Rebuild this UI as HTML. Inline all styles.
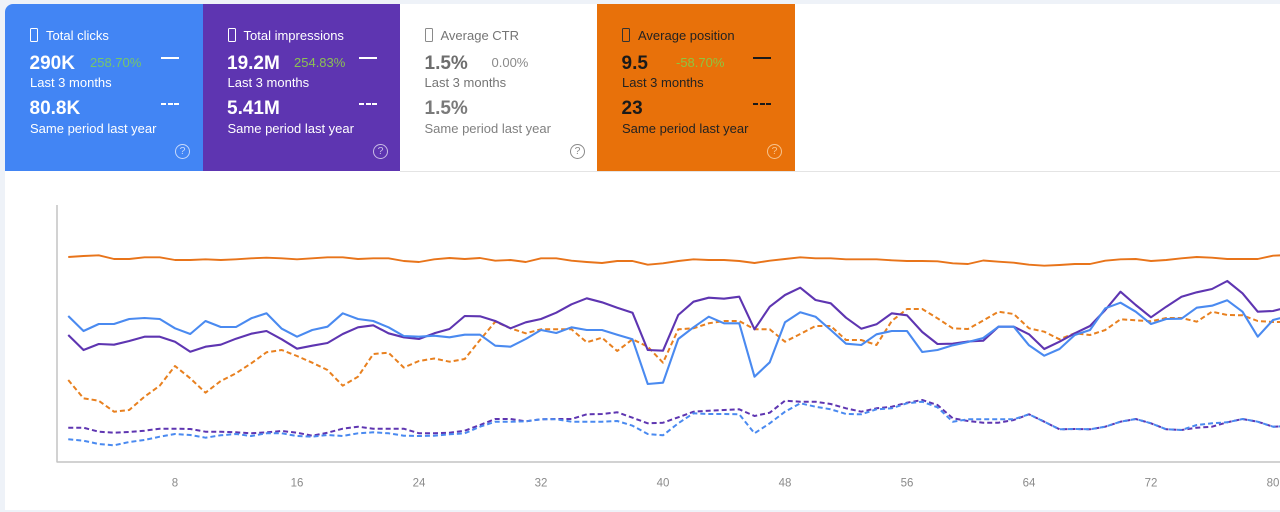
<!DOCTYPE html>
<html><head><meta charset="utf-8">
<style>
*{margin:0;padding:0;box-sizing:border-box}
html,body{width:1280px;height:512px;overflow:hidden;background:#eef2f8;font-family:"Liberation Sans",Arial,sans-serif}
#wrap{position:absolute;left:5px;top:4px;width:1290px;height:506px;background:#fff;border-top-left-radius:8px;overflow:hidden}
.card{position:absolute;top:4px;height:167px;width:198px}
.t{position:absolute;white-space:nowrap;line-height:1}
.lbl{font-size:13px;top:25px}
.big{font-size:19px;font-weight:bold}
.sm{font-size:13px}
.ic{position:absolute;left:25px;top:24.3px;width:7.5px;height:14px;border:1.3px solid;border-radius:1.5px}
.dash{position:absolute;left:156px;top:53.3px;width:18px;height:2px}
.dd{position:absolute;left:156px;top:99.3px;width:18px;height:2px}
.dd i{position:absolute;top:0;width:5px;height:2px}
.q{position:absolute;left:170px;top:140px;width:15px;height:15px;border:1.3px solid;border-radius:50%;font-size:10.5px;line-height:12.5px;text-align:center}
</style></head><body>
<div id="wrap"></div>
<div style="position:absolute;left:400px;top:171px;width:880px;height:1px;background:#e4e4e4"></div>

<!-- Clicks -->
<div class="card" style="left:5px;background:#4285f4;color:#fff;border-top-left-radius:8px">
  <div class="ic" style="border-color:#fff"></div>
  <div class="t lbl" style="left:41px">Total clicks</div>
  <div class="t big" style="left:24.5px;top:49.5px">290K</div>
  <div class="t sm" style="left:85px;top:51.6px;color:#76c66a">258.70%</div>
  <div class="dash" style="background:#fff"></div>
  <div class="t sm" style="left:25px;top:71.6px">Last 3 months</div>
  <div class="t big" style="left:24.5px;top:95.2px">80.8K</div>
  <div class="dd"><i style="left:0;background:#fff"></i><i style="left:6.5px;background:#fff"></i><i style="left:13px;background:#fff"></i></div>
  <div class="t sm" style="left:25px;top:117.6px">Same period last year</div>
  <div class="q" style="border-color:#c6d9fb;color:#c6d9fb">?</div>
</div>

<!-- Impressions -->
<div class="card" style="left:203px;width:197px;background:#5e35b1;color:#fff">
  <div class="ic" style="border-color:#fff"></div>
  <div class="t lbl" style="left:40.5px">Total impressions</div>
  <div class="t big" style="left:24px;top:49.5px">19.2M</div>
  <div class="t sm" style="left:91px;top:51.6px;color:#8cc152">254.83%</div>
  <div class="dash" style="background:#fff"></div>
  <div class="t sm" style="left:24.5px;top:71.6px">Last 3 months</div>
  <div class="t big" style="left:24px;top:95.2px">5.41M</div>
  <div class="dd"><i style="left:0;background:#fff"></i><i style="left:6.5px;background:#fff"></i><i style="left:13px;background:#fff"></i></div>
  <div class="t sm" style="left:24.5px;top:117.6px">Same period last year</div>
  <div class="q" style="border-color:#c9bbe6;color:#c9bbe6">?</div>
</div>

<!-- CTR -->
<div class="card" style="left:400px;width:197px;background:#fff;color:#757575">
  <div class="ic" style="border-color:#8a8a8a"></div>
  <div class="t lbl" style="left:40.5px">Average CTR</div>
  <div class="t big" style="left:24.5px;top:49.5px;color:#6e6e6e">1.5%</div>
  <div class="t sm" style="left:91.5px;top:51.6px;color:#8a8a8a">0.00%</div>
  <div class="t sm" style="left:24.5px;top:71.6px">Last 3 months</div>
  <div class="t big" style="left:24.5px;top:95.2px;color:#7a7a7a">1.5%</div>
  <div class="t sm" style="left:24.5px;top:117.6px;color:#808080">Same period last year</div>
  <div class="q" style="border-color:#8a8a8a;color:#8a8a8a">?</div>
</div>

<!-- Position -->
<div class="card" style="left:597px;width:198px;background:#e8710a;color:#222">
  <div class="ic" style="border-color:#333"></div>
  <div class="t lbl" style="left:41px">Average position</div>
  <div class="t big" style="left:24.5px;top:49.5px;color:#1a1a1a">9.5</div>
  <div class="t sm" style="left:79px;top:51.6px;color:#8dc63f">-58.70%</div>
  <div class="dash" style="background:#1a1a1a"></div>
  <div class="t sm" style="left:25px;top:71.6px">Last 3 months</div>
  <div class="t big" style="left:24.5px;top:95.2px;color:#1a1a1a">23</div>
  <div class="dd"><i style="left:0;background:#1a1a1a"></i><i style="left:6.5px;background:#1a1a1a"></i><i style="left:13px;background:#1a1a1a"></i></div>
  <div class="t sm" style="left:25px;top:117.6px">Same period last year</div>
  <div class="q" style="border-color:#f6c38e;color:#f6c38e">?</div>
</div>

<svg width="1280" height="512" viewBox="0 0 1280 512" style="position:absolute;left:0;top:0" xmlns="http://www.w3.org/2000/svg">
<g fill="none" stroke-linejoin="round" stroke-linecap="butt">
<line x1="57" y1="205" x2="57" y2="462" stroke="#c4c4c4" stroke-width="1.5"/>
<line x1="56.5" y1="462" x2="1280" y2="462" stroke="#c4c4c4" stroke-width="1.5"/>

<polyline stroke="#e8801f" stroke-width="2" stroke-dasharray="5,3" points="68.25,380 83.5,398.3 98.75,400.7 114,411.7 129.25,410 144.5,396.7 159.75,385.7 175,366 190.25,378.3 205.5,392.7 220.75,381 236,373.3 251.25,363.3 266.5,352.3 281.75,350 297,356 312.25,362.7 327.5,370 342.75,385.7 358,376.7 373.25,354 388.5,352.7 403.75,367.5 419,361 434.25,358.5 449.5,361.7 464.75,359 480,340 495.25,321.7 510.5,328.3 525.75,333.3 541,329.3 556.25,329.3 571.5,329.3 586.75,342.3 602,337.7 617.25,351 632.5,339.3 647.75,346.7 663,362.7 678.25,329.3 693.5,328.3 708.75,323.3 724,321 739.25,321 754.5,329.3 769.75,329.3 785,341.7 800.25,334 815.5,326 830.75,326 846,340 861.25,340 876.5,345 891.75,321 907,309 922.25,309 937.5,318.3 952.75,328.3 968,329 983.25,320.5 998.5,311.7 1013.75,314 1029,328.3 1044.25,331.7 1059.5,339.3 1074.75,333.3 1090,335 1105.25,330 1120.5,319.3 1135.75,320.3 1151,321.3 1166.25,318 1181.5,318 1196.75,321.7 1212,311.7 1227.25,315 1242.5,315.3 1257.75,321 1273,322 1288.25,322"/>

<polyline stroke="#5e35b1" stroke-width="2" stroke-dasharray="5,3" points="68.25,427.7 83.5,427.7 98.75,431.7 114,432.7 129.25,432 144.5,430.7 159.75,428.7 175,428.7 190.25,429 205.5,431.7 220.75,431.7 236,432.3 251.25,433.3 266.5,432.3 281.75,431 297,432.7 312.25,435.7 327.5,432.7 342.75,428.7 358,426.7 373.25,428.7 388.5,428.7 403.75,428.7 419,433.3 434.25,433.3 449.5,432.7 464.75,430.7 480,425 495.25,419 510.5,419 525.75,421.3 541,419.3 556.25,419 571.5,419 586.75,414.3 602,414 617.25,412.3 632.5,417.7 647.75,423.3 663,422.7 678.25,417.3 693.5,411.7 708.75,410.7 724,410 739.25,409.3 754.5,416 769.75,412.7 785,400.7 800.25,401.7 815.5,401.7 830.75,404 846,408.3 861.25,411.7 876.5,408.3 891.75,406.7 907,402.7 922.25,400 937.5,405 952.75,418.3 968,421 983.25,422.7 998.5,422.7 1013.75,420 1029,414.3 1044.25,421.7 1059.5,429.3 1074.75,429 1090,429.3 1105.25,426.7 1120.5,421.7 1135.75,419 1151,423.3 1166.25,429.3 1181.5,430 1196.75,427.7 1212,426.7 1227.25,422.3 1242.5,419 1257.75,421.7 1273,426.7 1288.25,426"/>

<polyline stroke="#4a8af0" stroke-width="2" stroke-dasharray="5,3" points="68.25,439.3 83.5,440.7 98.75,444 114,445.3 129.25,442 144.5,440 159.75,436.7 175,434 190.25,435 205.5,437.7 220.75,435.3 236,434 251.25,436 266.5,433.3 281.75,433.3 297,436 312.25,436.7 327.5,435 342.75,436 358,433.3 373.25,432.3 388.5,433.3 403.75,435.7 419,436 434.25,435.7 449.5,434.3 464.75,433.3 480,426.7 495.25,421.7 510.5,421.7 525.75,421.3 541,419.3 556.25,419.3 571.5,421.7 586.75,421.7 602,421.7 617.25,421 632.5,425.7 647.75,434 663,435.3 678.25,423.3 693.5,413.3 708.75,414 724,414 739.25,414.3 754.5,433.3 769.75,423.3 785,411.7 800.25,403.3 815.5,406.7 830.75,409.3 846,414 861.25,414.3 876.5,409.3 891.75,408.3 907,403.3 922.25,401.7 937.5,407.3 952.75,421.7 968,419.3 983.25,419.3 998.5,419.3 1013.75,419.3 1029,414.3 1044.25,421.7 1059.5,429.3 1074.75,429 1090,429.3 1105.25,426.7 1120.5,421.7 1135.75,419 1151,423.3 1166.25,429.3 1181.5,430 1196.75,425 1212,423.3 1227.25,422.3 1242.5,419 1257.75,421.7 1273,426.7 1288.25,426"/>

<polyline stroke="#e8741a" stroke-width="1.9" points="68.25,257 83.5,256 98.75,255.3 114,259 129.25,259 144.5,257.3 159.75,257.3 175,260 190.25,260 205.5,259.3 220.75,260 236,259.3 251.25,258.3 266.5,257.7 281.75,258.3 297,259.3 312.25,258.3 327.5,257.3 342.75,257.3 358,259 373.25,258.3 388.5,258.3 403.75,261 419,262 434.25,259.3 449.5,258 464.75,259 480,258 495.25,260.7 510.5,260 525.75,262 541,258.3 556.25,258.3 571.5,260.7 586.75,262 602,263 617.25,261 632.5,261 647.75,264.7 663,263.3 678.25,261 693.5,259.3 708.75,260 724,260 739.25,261 754.5,263 769.75,260.7 785,259 800.25,257.3 815.5,258.3 830.75,258.3 846,259.3 861.25,259.3 876.5,259.3 891.75,260.3 907,261 922.25,261 937.5,261.3 952.75,263.3 968,264 983.25,260.5 998.5,261.7 1013.75,262.7 1029,264.7 1044.25,265.7 1059.5,265 1074.75,264 1090,264 1105.25,260.7 1120.5,259.3 1135.75,259 1151,261 1166.25,260 1181.5,258.3 1196.75,257 1212,257.7 1227.25,259 1242.5,259 1257.75,259 1273,255.7 1288.25,255"/>

<polyline stroke="#5e35b1" stroke-width="2.1" points="68.25,335 83.5,350 98.75,344 114,344.7 129.25,341 144.5,336.7 159.75,336.7 175,341.7 190.25,351.7 205.5,346.7 220.75,344.7 236,338.7 251.25,333.7 266.5,331 281.75,339.3 297,348.7 312.25,345.7 327.5,343 342.75,334 358,327.3 373.25,325.3 388.5,333.3 403.75,337.3 419,339 434.25,333.3 449.5,329 464.75,316 480,316.3 495.25,321 510.5,328.3 525.75,322.3 541,319 556.25,312.7 571.5,304.3 586.75,298.3 602,302.3 617.25,307.7 632.5,312.7 647.75,350 663,350.7 678.25,315 693.5,301.7 708.75,297.7 724,298.7 739.25,296.7 754.5,329.3 769.75,306.7 785,295 800.25,287.7 815.5,300 830.75,303.3 846,317.7 861.25,328.7 876.5,324.3 891.75,313.3 907,315.3 922.25,332 937.5,344 952.75,343.7 968,341.5 983.25,340.7 998.5,326.7 1013.75,326.7 1029,334.3 1044.25,349 1059.5,341.7 1074.75,333.3 1090,326 1105.25,310 1120.5,291.7 1135.75,305 1151,317.3 1166.25,306.7 1181.5,296.7 1196.75,292.3 1212,289 1227.25,281 1242.5,293.3 1257.75,311.7 1273,311 1288.25,307"/>

<polyline stroke="#4a8af0" stroke-width="2.1" points="68.25,316 83.5,331 98.75,324 114,324 129.25,319 144.5,318 159.75,319 175,328.3 190.25,334 205.5,321 220.75,327 236,327 251.25,318.3 266.5,313.3 281.75,328.7 297,336.7 312.25,330 327.5,326.7 342.75,313.3 358,319 373.25,321 388.5,327.3 403.75,336 419,336.7 434.25,335.7 449.5,337.3 464.75,334.7 480,334.7 495.25,345.7 510.5,346.7 525.75,339 541,330 556.25,333 571.5,327.3 586.75,330 602,330 617.25,334.7 632.5,339.3 647.75,384 663,382.7 678.25,339 693.5,327.3 708.75,316.7 724,323.3 739.25,323.3 754.5,376.7 769.75,362.3 785,322.3 800.25,312.3 815.5,316.7 830.75,330 846,343.7 861.25,345 876.5,334.3 891.75,331 907,331 922.25,352 937.5,350 952.75,345.3 968,342 983.25,338 998.5,326.7 1013.75,326.7 1029,345.3 1044.25,355.7 1059.5,349 1074.75,335 1090,330 1105.25,308.3 1120.5,302.7 1135.75,311.7 1151,324 1166.25,319 1181.5,318.7 1196.75,307.7 1212,305.7 1227.25,300.3 1242.5,311.7 1257.75,336.7 1273,320 1288.25,316"/>
</g>
<g font-family="Liberation Sans, Arial, sans-serif" font-size="11.5" fill="#8a8a8a" text-anchor="middle">
<text x="175" y="486.5">8</text>
<text x="297" y="486.5">16</text>
<text x="419" y="486.5">24</text>
<text x="541" y="486.5">32</text>
<text x="663" y="486.5">40</text>
<text x="785" y="486.5">48</text>
<text x="907" y="486.5">56</text>
<text x="1029" y="486.5">64</text>
<text x="1151" y="486.5">72</text>
<text x="1273" y="486.5">80</text>
</g>
</svg>
</body></html>
